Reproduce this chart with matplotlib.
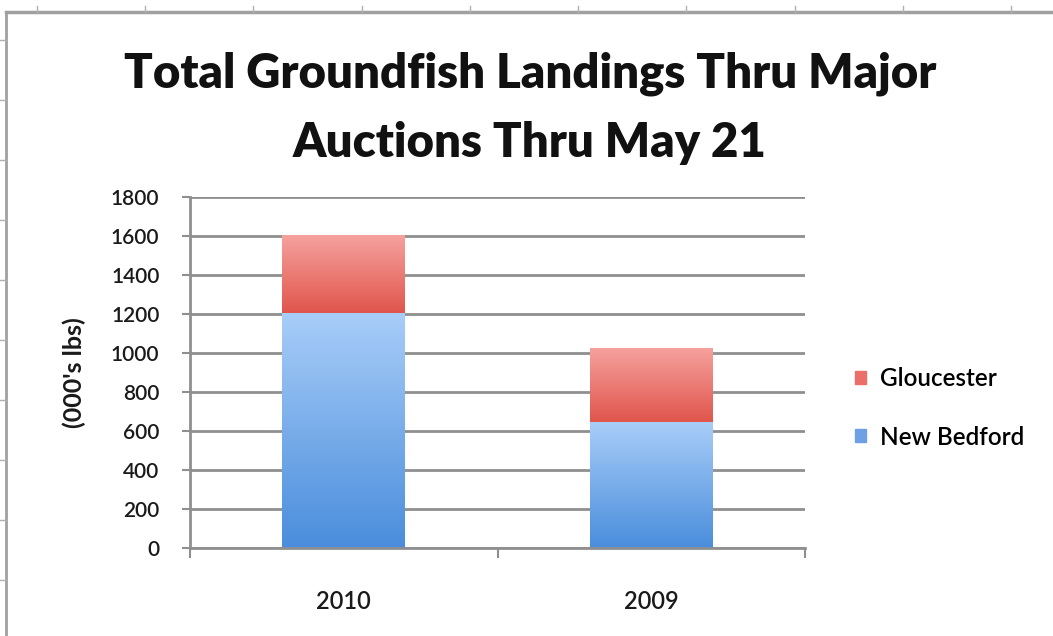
import matplotlib
matplotlib.use("Agg")
import matplotlib.pyplot as plt
import numpy as np
from matplotlib.colors import LinearSegmentedColormap
from matplotlib.lines import Line2D

years = ["2010", "2009"]
new_bedford = [1205, 645]
gloucester = [400, 380]
yticks = [0, 200, 400, 600, 800, 1000, 1200, 1400, 1600, 1800]

plt.rcParams['font.family'] = ['Lato', 'DejaVu Sans']

W, H = 1053, 636
fig = plt.figure(figsize=(W / 100, H / 100), dpi=100)
fig.patch.set_facecolor("white")

ax = fig.add_axes([190 / W, 1 - 548 / H, (805 - 190) / W, (548 - 197) / H])
x = np.arange(len(years))
bw = 0.4
b1 = ax.bar(x, new_bedford, width=bw, color="#6fa8ea", zorder=2)
b2 = ax.bar(x, gloucester, width=bw, bottom=new_bedford, color="#ea7a73", zorder=2)

blue_cmap = LinearSegmentedColormap.from_list("b", ["#4a8ddc", "#a8cdf8"])
red_cmap = LinearSegmentedColormap.from_list("r", ["#e0554c", "#f6a29e"])
grad = np.linspace(0, 1, 256).reshape(-1, 1)
for bars, cmap in ((b1, blue_cmap), (b2, red_cmap)):
    for p in bars:
        x0, y0 = p.get_x(), p.get_y()
        w, h = p.get_width(), p.get_height()
        im = ax.imshow(grad, cmap=cmap, origin="lower", aspect="auto",
                       extent=[x0, x0 + w, y0, y0 + h], zorder=2.5)
        im.set_clip_path(p)
        p.set_facecolor("none")

ax.set_xlim(-0.5, 1.5)
ax.set_ylim(0, 1800)
ax.set_yticks(yticks)
ax.set_yticklabels([str(v) for v in yticks], fontsize=15, fontweight="semibold")
ax.yaxis.grid(True, color="#8f8f8f", linewidth=2, zorder=0)
ax.set_axisbelow(True)
ax.tick_params(axis="y", length=6, width=1.5, color="#8f8f8f", pad=16, labelcolor="#1a1a1a")

ax.set_xticks(x)
ax.set_xticklabels(years, fontsize=17, fontweight="semibold", color="#1a1a1a")
ax.set_xticks([-0.5, 0.5, 1.5], minor=True)
ax.tick_params(axis="x", which="major", length=0, pad=30)
ax.tick_params(axis="x", which="minor", length=7, width=1.5, color="#8f8f8f")

for s in ("top", "right"):
    ax.spines[s].set_visible(False)
for s in ("left", "bottom"):
    ax.spines[s].set_color("#8f8f8f")
    ax.spines[s].set_linewidth(2)

ax.set_ylabel("(000's lbs)", fontsize=18, fontweight="bold", labelpad=18, color="#1a1a1a")

fig.text(530 / W, 1 - 88 / H, "Total Groundfish Landings Thru Major", ha="center", va="baseline",
         fontsize=34, fontweight="heavy", color="#111111")
fig.text(530 / W, 1 - 157 / H, "Auctions Thru May 21", ha="center", va="baseline",
         fontsize=34, fontweight="heavy", color="#111111")

# legend
handles = [plt.Rectangle((0, 0), 1, 1, color="#ea6f68"), plt.Rectangle((0, 0), 1, 1, color="#6fa0e6")]
leg = fig.legend(handles, ["Gloucester", "New Bedford"], loc="center left",
                 bbox_to_anchor=(833 / W, 1 - 408 / H), frameon=False,
                 handlelength=0.45, handleheight=0.45, handletextpad=0.6, labelspacing=1.45,
                 prop={"weight": "semibold", "size": 17.5})

# outer spreadsheet-like border
fig.add_artist(Line2D([6 / W, 1], [1 - 12 / H, 1 - 12 / H], color="#a0a0a0", lw=2.5))
fig.add_artist(Line2D([6 / W, 6 / W], [0, 1 - 12 / H], color="#a0a0a0", lw=2))
for tx in [37, 145, 253, 362, 470, 578, 686, 795, 903, 1011]:
    fig.add_artist(Line2D([tx / W, tx / W], [1 - 6 / H, 1 - 12 / H], color="#b0b0b0", lw=1))
for ty in [40, 100, 160, 220, 280, 340, 400, 460, 520, 580]:
    fig.add_artist(Line2D([0, 6 / W], [1 - ty / H, 1 - ty / H], color="#b0b0b0", lw=1))

fig.savefig("out.png", dpi=100, facecolor="white")
